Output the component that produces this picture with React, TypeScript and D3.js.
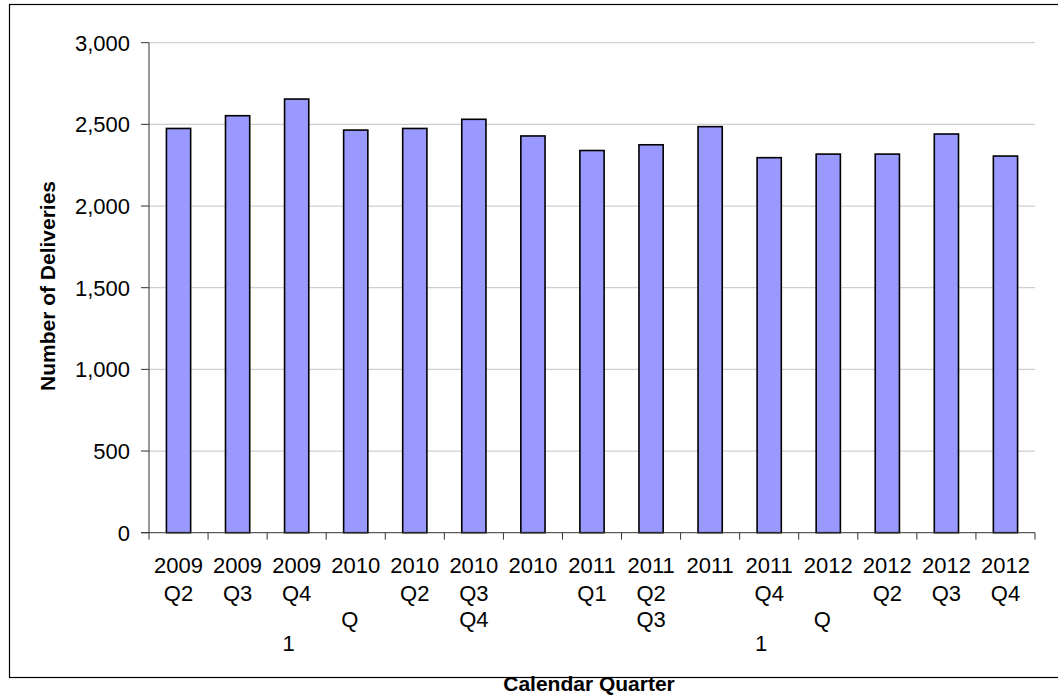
import React from "react";
import * as d3 from "d3";

const categories = [
  "2009 Q2", "2009 Q3", "2009 Q4", "2010 Q1", "2010 Q2", "2010 Q3", "2010 Q4",
  "2011 Q1", "2011 Q2", "2011 Q3", "2011 Q4", "2012 Q1", "2012 Q2", "2012 Q3", "2012 Q4",
];
const deliveries = [2475, 2553, 2655, 2465, 2475, 2531, 2429, 2340, 2375, 2486, 2296, 2318, 2318, 2441, 2306];
// tick label text as it appears (wrapped lines)
const tickLabelLines: string[][] = [
  ["2009", "Q2"],
  ["2009", "Q3"],
  ["2009", "Q4", "", "1"],
  ["2010", "", "Q"],
  ["2010", "Q2"],
  ["2010", "Q3", "Q4"],
  ["2010"],
  ["2011", "Q1"],
  ["2011", "Q2", "Q3"],
  ["2011"],
  ["2011", "Q4", "", "1"],
  ["2012", "", "Q"],
  ["2012", "Q2"],
  ["2012", "Q3"],
  ["2012", "Q4"],
];
const yTicks = [0, 500, 1000, 1500, 2000, 2500, 3000];
const yTitle = "Number of Deliveries";
const xTitle = "Calendar Quarter";

const W = 1058;
const H = 697;
const plotLeft = 149;
const plotRight = 1035;
const plotTop = 42.7;
const plotBottom = 532.7;
const FONT = "'Liberation Sans', Arial, Helvetica, sans-serif";
const rowOffsets = [40, 68, 94, 118];

export default function App() {
  const x = d3
    .scaleBand<string>()
    .domain(categories)
    .range([plotLeft, plotRight])
    .paddingInner(0.59)
    .paddingOuter(0.295);
  const y = d3.scaleLinear().domain([0, 3000]).range([plotBottom, plotTop]);
  const fmt = d3.format(",");
  const step = x.step();

  const fragDx = (s: string) => (s === "Q" ? -6 : s === "1" ? -8 : 0);

  return (
    <svg
      width={W}
      height={H}
      style={{ position: "absolute", left: 0, top: 0, background: "#fff" }}
      fontFamily={FONT}
    >
      <rect x={0} y={0} width={W} height={H} fill="#fff" />
      {/* outer border */}
      <rect x={9.5} y={4.5} width={W + 20} height={673} fill="none" stroke="#000" strokeWidth={1.2} />

      {/* gridlines */}
      {yTicks.filter((t) => t > 0).map((t) => (
        <line key={"g" + t} x1={plotLeft} x2={plotRight} y1={y(t)} y2={y(t)} stroke="#cfcfcf" strokeWidth={1.3} />
      ))}

      {/* bars */}
      {categories.map((c, i) => (
        <rect
          key={c}
          x={x(c)!}
          y={y(deliveries[i])}
          width={x.bandwidth()}
          height={y(0) - y(deliveries[i])}
          fill="#9999ff"
          stroke="#000"
          strokeWidth={1.6}
        />
      ))}

      {/* y axis */}
      <line x1={plotLeft} x2={plotLeft} y1={plotTop} y2={plotBottom} stroke="#333" strokeWidth={1} />
      {yTicks.map((t) => (
        <g key={"t" + t}>
          <line x1={plotLeft - 8} x2={plotLeft} y1={y(t)} y2={y(t)} stroke="#333" strokeWidth={1} />
          <text x={130} y={y(t)} dy="0.36em" textAnchor="end" fontSize={22} fill="#000">
            {fmt(t)}
          </text>
        </g>
      ))}

      {/* x axis */}
      <line x1={plotLeft - 8} x2={plotRight} y1={plotBottom} y2={plotBottom} stroke="#333" strokeWidth={1} />
      {d3.range(categories.length + 1).map((i) => (
        <line
          key={"xt" + i}
          x1={plotLeft + i * step}
          x2={plotLeft + i * step}
          y1={plotBottom}
          y2={plotBottom + 7}
          stroke="#333"
          strokeWidth={1}
        />
      ))}
      {categories.map((c, i) => {
        const cx = x(c)! + x.bandwidth() / 2;
        return tickLabelLines[i].map((s, r) =>
          s ? (
            <text
              key={c + r}
              x={cx + fragDx(s)}
              y={plotBottom + rowOffsets[r]}
              textAnchor="middle"
              fontSize={22}
              fill="#000"
            >
              {s}
            </text>
          ) : null
        );
      })}

      {/* axis titles */}
      <text x={589} y={691} textAnchor="middle" fontSize={21} fontWeight="bold" fill="#000">
        {xTitle}
      </text>
      <text
        transform="translate(55,286) rotate(-90)"
        textAnchor="middle"
        fontSize={21}
        fontWeight="bold"
        fill="#000"
      >
        {yTitle}
      </text>
    </svg>
  );
}
